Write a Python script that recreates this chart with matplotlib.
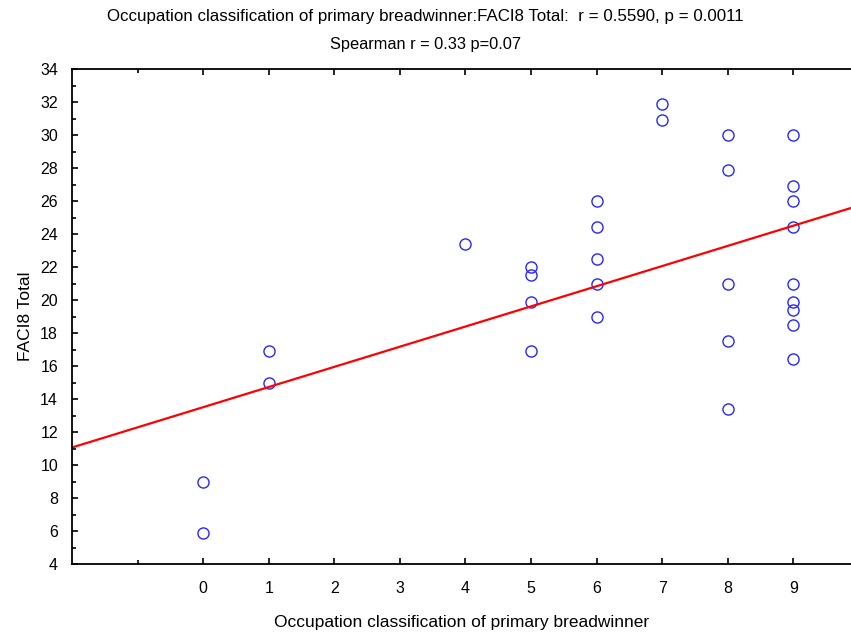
import numpy as np
import matplotlib
matplotlib.use('Agg')
import matplotlib.pyplot as plt
from matplotlib.ticker import MultipleLocator, FixedLocator

plt.rcParams['font.family'] = ['Liberation Sans', 'DejaVu Sans']

# occupation class (x) vs FACI8 total (y)
occupation = [0, 0, 1, 1, 4, 5, 5, 5, 5, 6, 6, 6, 6, 6, 7, 7,
              8, 8, 8, 8, 8, 9, 9, 9, 9, 9, 9, 9, 9, 9]
faci8 = [9.0, 5.9, 16.9, 15.0, 23.4, 22.0, 21.5, 19.9, 16.9,
         26.0, 24.4, 22.5, 21.0, 19.0, 31.9, 30.9,
         30.0, 27.9, 21.0, 17.5, 13.4,
         30.0, 26.9, 26.0, 24.4, 21.0, 19.9, 19.4, 18.5, 16.4]
x_ticks = list(range(10))

fig = plt.figure(figsize=(8.51, 6.32), dpi=100)
ax = fig.add_axes([72 / 851, 1 - 564 / 632, 1 - 72 / 851, (564 - 69) / 632])

ax.plot(occupation, faci8, 'o', mfc='none', mec='#2626ff', ms=8, mew=1.0)

slope, intercept = np.polyfit(occupation, faci8, 1)
xl = np.array([-2, 9.9])
ax.plot(xl, intercept + slope * xl, color='red', lw=1.6)

ax.set_xlim(-2, 9.88)
ax.set_ylim(4, 34)
ax.xaxis.set_major_locator(FixedLocator(x_ticks))
ax.xaxis.set_minor_locator(FixedLocator([-1]))
ax.yaxis.set_major_locator(MultipleLocator(2))
ax.yaxis.set_minor_locator(MultipleLocator(1))
ax.tick_params(which='both', direction='in', top=True, labelsize=11.5, width=1.2)
ax.tick_params(which='major', length=4)
ax.tick_params(which='minor', length=3)
ax.tick_params(axis='x', pad=12)
ax.tick_params(axis='y', pad=10)
for s in ['left', 'top', 'bottom']:
    ax.spines[s].set_linewidth(1.3)
ax.spines['right'].set_visible(False)

ax.set_xlabel('Occupation classification of primary breadwinner', fontsize=12.5, labelpad=14)
ax.set_ylabel('FACI8 Total', fontsize=12.5, labelpad=5)
fig.text(0.5, 1 - 17 / 632, 'Occupation classification of primary breadwinner:FACI8 Total:  r = 0.5590, p = 0.0011',
         ha='center', va='center', fontsize=12.2)
fig.text(0.5, 1 - 45 / 632, 'Spearman r = 0.33 p=0.07', ha='center', va='center', fontsize=11.8)

fig.savefig('out.png', dpi=100)
